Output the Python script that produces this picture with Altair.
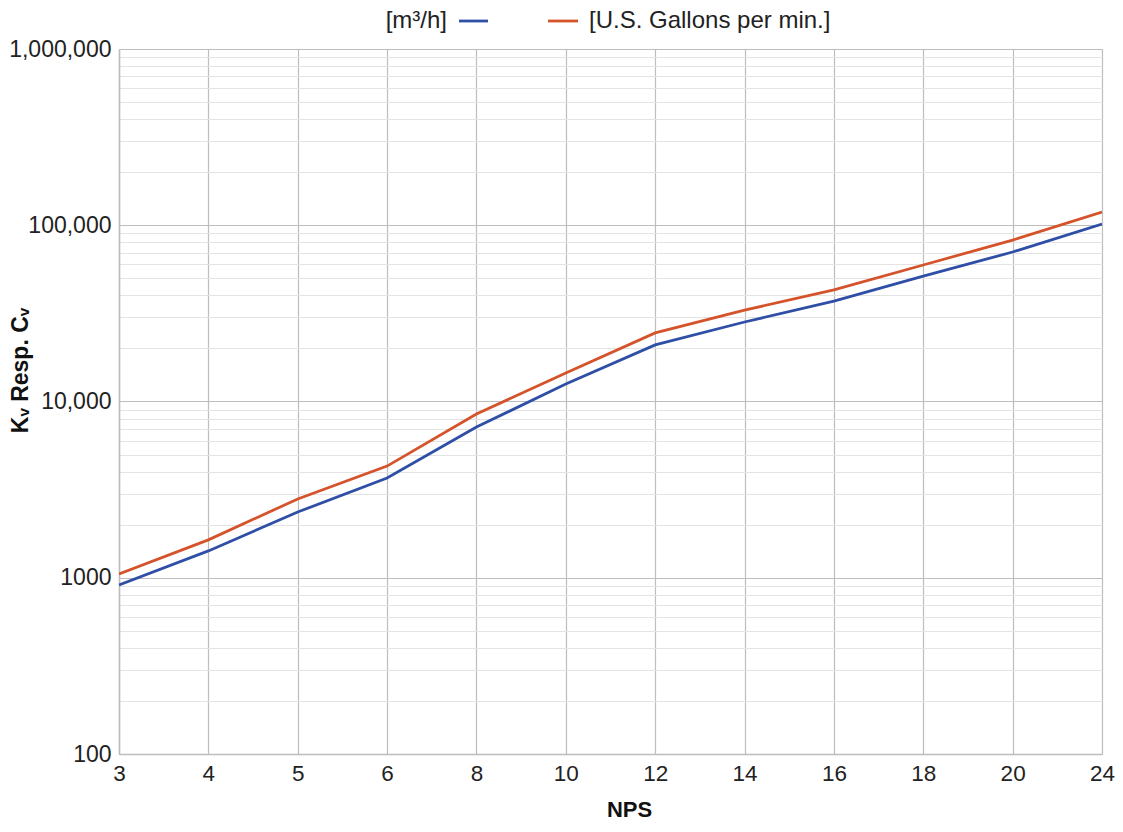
import altair as alt
import pandas as pd

nps = ["3", "4", "5", "6", "8", "10", "12", "14", "16", "18", "20", "24"]
kv_m3h = [910, 1420, 2360, 3680, 7160, 12560, 20950, 28250, 37150, 51500, 70500, 101600]
cv_gpm = [1050, 1640, 2800, 4300, 8490, 14500, 24500, 33000, 43000, 59500, 82400, 118900]
series = ["[m³/h]", "[U.S. Gallons per min.]"]
colors = ["#2f4fa6", "#d4532b"]

y_ticks = [m * 10 ** e for e in range(2, 6) for m in range(1, 10)] + [1000000]

rows = []
for n, a, b in zip(nps, kv_m3h, cv_gpm):
    rows.append({"nps": n, "value": a, "series": series[0]})
    rows.append({"nps": n, "value": b, "series": series[1]})
df = pd.DataFrame(rows)

FONT = "Liberation Sans"
is_decade = "abs(log(datum.value)/LN10 - round(log(datum.value)/LN10)) < 1e-6"

lines = alt.Chart(df).mark_line(strokeWidth=2.8, clip=True).encode(
    x=alt.X("nps:O", sort=nps,
            scale=alt.Scale(type="point", padding=0),
            axis=alt.Axis(title="NPS", labelAngle=0, ticks=False, grid=True,
                          gridColor="#bdbdbd", gridWidth=1.2,
                          domainColor="#bdbdbd", domainWidth=1.5,
                          labelFont=FONT, labelFontSize=22.5, labelColor="#222",
                          labelPadding=8,
                          titleFont=FONT, titleFontSize=22, titleFontWeight="bold",
                          titleColor="#111", titleX=510, titleY=55,
                          titleBaseline="middle", titleAlign="center")),
    y=alt.Y("value:Q",
            scale=alt.Scale(type="log", domain=[100, 1000000], nice=False),
            axis=alt.Axis(title="Kᵥ Resp. Cᵥ", values=y_ticks, ticks=False,
                          labelExpr=f"({is_decade}) ? (datum.value == 1000 ? '1000' : format(datum.value, ',')) : ''",
                          gridColor={"condition": {"test": is_decade, "value": "#bdbdbd"}, "value": "#e3e3e3"},
                          gridWidth={"condition": {"test": is_decade, "value": 1.2}, "value": 1},
                          domainColor="#bdbdbd", domainWidth=1.5,
                          labelFont=FONT, labelFontSize=23, labelColor="#222",
                          labelPadding=8, labelOverlap=False,
                          titleFont=FONT, titleFontSize=23, titleFontWeight="bold",
                          titleColor="#111", titleX=-99, titleY=321,
                          titleBaseline="middle", titleAlign="center")),
    color=alt.Color("series:N", scale=alt.Scale(domain=series, range=colors), legend=None),
    detail="series:N",
)

one = alt.Data(values=[{"k": 1}])
leg_text1 = alt.Chart(one).mark_text(align="right", baseline="middle", font=FONT,
                                     fontSize=24, color="#222").encode(
    x=alt.value(328), y=alt.value(-28), text=alt.value(series[0]))
leg_rule1 = alt.Chart(one).mark_rule(strokeWidth=2.8, color=colors[0]).encode(
    x=alt.value(340), x2=alt.value(369), y=alt.value(-28))
leg_rule2 = alt.Chart(one).mark_rule(strokeWidth=2.8, color=colors[1]).encode(
    x=alt.value(429), x2=alt.value(459), y=alt.value(-28))
leg_text2 = alt.Chart(one).mark_text(align="left", baseline="middle", font=FONT,
                                     fontSize=24, color="#222").encode(
    x=alt.value(470), y=alt.value(-28), text=alt.value(series[1]))

chart = alt.layer(lines, leg_text1, leg_rule1, leg_rule2, leg_text2).properties(
    width=983, height=705,
    autosize=alt.AutoSizeParams(type="none"),
    padding={"left": 111, "top": 41, "right": 13, "bottom": 64},
).configure_view(stroke="#bdbdbd", strokeWidth=1.5).configure(background="white")

chart.save("out.html", embed_options={"renderer": "svg", "actions": False})
